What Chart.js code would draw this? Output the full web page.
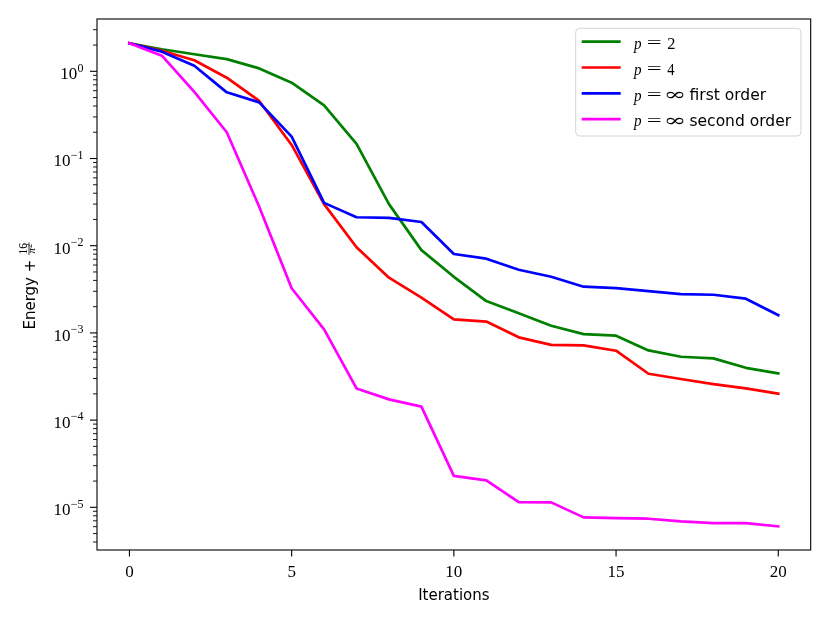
<!DOCTYPE html>
<html>
<head>
<meta charset="utf-8">
<script src="https://cdn.jsdelivr.net/npm/chart.js@4.4.1/dist/chart.umd.min.js"></script>
<style>
  html, body { margin: 0; padding: 0; background: #ffffff; }
  #wrap { width: 830px; height: 623px; }
</style>
</head>
<body>
<div id="wrap"><canvas id="c" width="830" height="623"></canvas></div>
<script>
// ---- data ----
const iterations = [0,1,2,3,4,5,6,7,8,9,10,11,12,13,14,15,16,17,18,19,20];
const p2 = [2.1, 1.79, 1.57, 1.38, 1.08, 0.74, 0.407, 0.147, 0.030, 0.0089, 0.0044, 0.00232, 0.00168, 0.00121, 0.00097, 0.00093, 0.00063, 0.000533, 0.00051, 0.000398, 0.000344];
const p4 = [2.1, 1.72, 1.34, 0.845, 0.457, 0.143, 0.030, 0.0096, 0.0043, 0.00254, 0.00143, 0.00135, 0.00089, 0.00073, 0.00072, 0.000625, 0.00034, 0.000296, 0.000259, 0.000231, 0.000201];
const pInfFirst = [2.1, 1.68, 1.16, 0.574, 0.44, 0.178, 0.031, 0.0212, 0.0209, 0.0187, 0.00803, 0.0071, 0.0053, 0.00441, 0.00339, 0.00327, 0.00302, 0.00279, 0.00274, 0.00247, 0.0016];
const pInfSecond = [2.1, 1.51, 0.58, 0.2, 0.028, 0.00325, 0.0011, 0.000231, 0.000173, 0.000143, 2.29e-5, 2.04e-5, 1.15e-5, 1.14e-5, 7.67e-6, 7.5e-6, 7.4e-6, 6.9e-6, 6.6e-6, 6.6e-6, 6.05e-6];
const seriesLabels = [
  {p: "2", rest: ""},
  {p: "4", rest: ""},
  {p: "\u221E", rest: "first order"},
  {p: "\u221E", rest: "second order"}
];
const xTicks = [0, 5, 10, 15, 20];
const yTickExponents = [0, -1, -2, -3, -4, -5];
const xTitle = "Iterations";
const yTitle = "Energy + ";

const colors = ["#008000", "#ff0000", "#0000ff", "#ff00ff"];
const allSeries = [p2, p4, pInfFirst, pInfSecond];

const toPoints = arr => iterations.map((x, i) => ({x: x, y: arr[i]}));

const SERIF = "'Liberation Serif', 'DejaVu Serif', serif";
const SANS = "'DejaVu Sans', sans-serif";

// draw text so that its ink spans [left, left+width] horizontally
function fitInk(ctx, text, font, left, width, base) {
  ctx.save();
  ctx.font = font;
  ctx.textAlign = "left";
  const m = ctx.measureText(text);
  const inkW = m.actualBoundingBoxLeft + m.actualBoundingBoxRight;
  const s = inkW > 0 ? width / inkW : 1;
  ctx.translate(left, base);
  ctx.scale(s, 1);
  ctx.fillText(text, m.actualBoundingBoxLeft, 0);
  ctx.restore();
}

const decorPlugin = {
  id: 'decor',
  afterDraw(chart) {
    const ctx = chart.ctx;
    const ca = chart.chartArea;
    const xs = chart.scales.x, ys = chart.scales.y;
    ctx.save();
    // frame
    ctx.strokeStyle = "#000";
    ctx.lineWidth = 1.1;
    ctx.strokeRect(ca.left, ca.top, ca.right - ca.left, ca.bottom - ca.top);

    // x ticks and labels
    ctx.fillStyle = "#000";
    ctx.font = "17px " + SERIF;
    ctx.textAlign = "center";
    ctx.textBaseline = "alphabetic";
    xTicks.forEach(v => {
      const px = xs.getPixelForValue(v);
      ctx.beginPath();
      ctx.moveTo(px, ca.bottom);
      ctx.lineTo(px, ca.bottom + 6.5);
      ctx.stroke();
      ctx.fillText(String(v), px, ca.bottom + 26.5);
    });

    // y minor ticks
    const lo = Math.floor(Math.log10(ys.min)), hi = Math.ceil(Math.log10(ys.max));
    for (let k = lo; k <= hi; k++) {
      for (let m = 2; m <= 9; m++) {
        const v = m * Math.pow(10, k);
        if (v < ys.min || v > ys.max) continue;
        const py = ys.getPixelForValue(v);
        ctx.beginPath();
        ctx.lineWidth = 0.9;
        ctx.moveTo(ca.left, py);
        ctx.lineTo(ca.left - 4, py);
        ctx.stroke();
      }
    }
    // y major ticks and labels
    ctx.lineWidth = 1.1;
    yTickExponents.forEach(e => {
      const py = ys.getPixelForValue(Math.pow(10, e));
      ctx.beginPath();
      ctx.moveTo(ca.left, py);
      ctx.lineTo(ca.left - 7, py);
      ctx.stroke();
      const sup = e < 0 ? "\u2212" + String(-e) : String(e);
      ctx.font = "12px " + SERIF;
      const ws = ctx.measureText(sup).width;
      const right = ca.left - 13.5;
      ctx.textAlign = "left";
      ctx.fillText(sup, right - ws, py + 0.3);
      ctx.font = "17px " + SERIF;
      ctx.textAlign = "right";
      ctx.fillText("10", right - ws - 0.3, py + 7.8);
    });

    // x title
    ctx.font = "15px " + SANS;
    ctx.textAlign = "center";
    ctx.fillText(xTitle, (ca.left + ca.right) / 2, ca.bottom + 50);

    // y title (rotated) with fraction 16/pi^2
    ctx.save();
    const cy = (ca.top + ca.bottom) / 2 + 1.5;
    ctx.translate(34.5, cy);
    ctx.rotate(-Math.PI / 2);
    ctx.font = "15px " + SANS;
    const w1 = ctx.measureText(yTitle).width;
    ctx.font = "11.5px " + SERIF;
    const wNum = ctx.measureText("16").width;
    const fracW = wNum + 1;
    const total = w1 + fracW;
    let x0 = -total / 2;
    ctx.textAlign = "left";
    ctx.font = "15px " + SANS;
    ctx.fillText(yTitle, x0, 0);
    const fx = x0 + w1;
    ctx.lineWidth = 0.8;
    ctx.beginPath();
    ctx.moveTo(fx, -5.5);
    ctx.lineTo(fx + fracW, -5.5);
    ctx.stroke();
    ctx.font = "11.5px " + SERIF;
    ctx.textAlign = "center";
    ctx.fillText("16", fx + fracW / 2, -7.3);
    ctx.font = "italic 11px " + SERIF;
    const wPi = ctx.measureText("\u03C0").width;
    ctx.font = "8px " + SERIF;
    const wTwo = ctx.measureText("2").width;
    const dStart = fx + fracW / 2 - (wPi + wTwo) / 2;
    ctx.textAlign = "left";
    ctx.font = "italic 11px " + SERIF;
    ctx.fillText("\u03C0", dStart, 0.7);
    ctx.font = "8px " + SERIF;
    ctx.fillText("2", dStart + wPi + 0.3, -2.2);
    ctx.restore();

    // legend
    const bw = 225.3, bh = 107.7;
    const bx = ca.right - 9.7 - bw, by = ca.top + 9.3;
    ctx.beginPath();
    if (ctx.roundRect) ctx.roundRect(bx, by, bw, bh, 4); else ctx.rect(bx, by, bw, bh);
    ctx.fillStyle = "rgba(255,255,255,0.8)";
    ctx.fill();
    ctx.strokeStyle = "#d4d4d4";
    ctx.lineWidth = 1;
    ctx.stroke();
    chart.data.datasets.forEach((ds, i) => {
      const ry = by + 13.4 + i * 25.8;
      ctx.strokeStyle = ds.borderColor;
      ctx.lineWidth = 2.7;
      ctx.lineCap = "butt";
      ctx.beginPath();
      ctx.moveTo(bx + 6, ry);
      ctx.lineTo(bx + 45, ry);
      ctx.stroke();
      const lab = seriesLabels[i];
      const tx = bx + 57.5;
      const base = ry + 7.2;
      ctx.fillStyle = "#000";
      ctx.textAlign = "left";
      fitInk(ctx, "p", "italic 17px " + SERIF, tx, 8, base);
      fitInk(ctx, "=", "17px " + SERIF, tx + 13.5, 14, base - 0.8);
      if (lab.p === "\u221E") {
        fitInk(ctx, lab.p, "17px 'DejaVu Serif', serif", tx + 33.4, 17.3, base - 0.5);
      } else {
        fitInk(ctx, lab.p, "17px " + SERIF, tx + 34, 7.7, base);
      }
      if (lab.rest) {
        ctx.font = "15.5px " + SANS;
        ctx.textAlign = "left";
        ctx.fillText(lab.rest, tx + 56.3, base - 0.3);
      }
    });
    ctx.restore();
  }
};

const datasets = allSeries.map((arr, i) => ({
  label: seriesLabels[i].p + " " + seriesLabels[i].rest,
  data: toPoints(arr),
  borderColor: colors[i],
  backgroundColor: colors[i],
  borderWidth: 2.7,
  pointRadius: 0,
  tension: 0,
  fill: false,
  borderJoinStyle: "round",
  borderCapStyle: "square",
  order: allSeries.length - i
}));

new Chart(document.getElementById('c'), {
  type: 'line',
  data: { datasets: datasets },
  options: {
    responsive: false,
    animation: false,
    devicePixelRatio: 1,
    layout: { padding: { left: 97, top: 19, right: 19.3, bottom: 73 } },
    plugins: { legend: { display: false }, tooltip: { enabled: false } },
    scales: {
      x: { type: 'linear', min: -1, max: 21, display: false },
      y: { type: 'logarithmic', min: 3.24e-6, max: 3.98, display: false }
    }
  },
  plugins: [decorPlugin]
});
</script>
</body>
</html>
